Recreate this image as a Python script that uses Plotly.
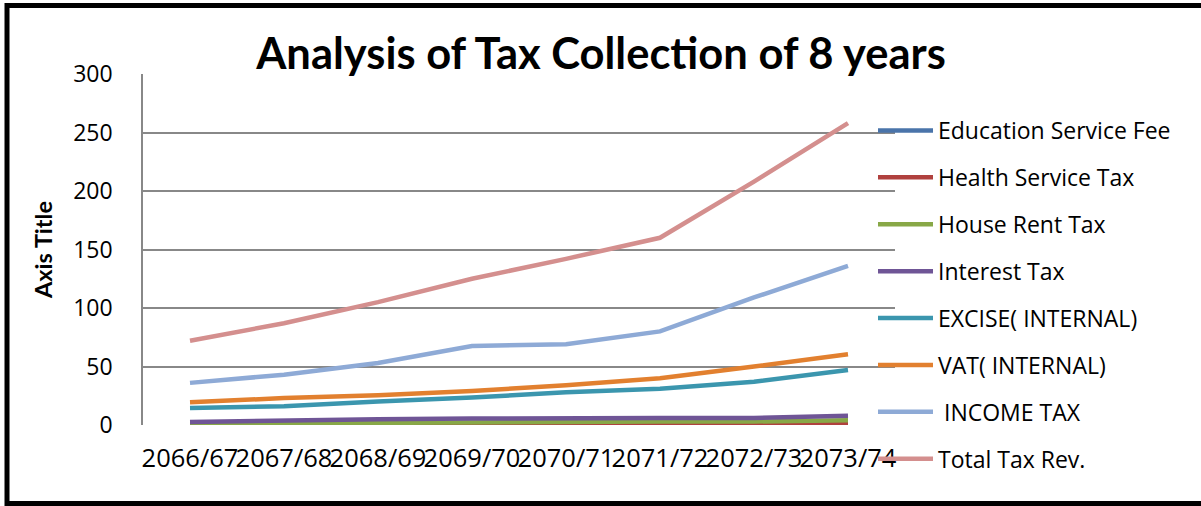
import plotly.graph_objects as go

years = ["2066/67", "2067/68", "2068/69", "2069/70", "2070/71", "2071/72", "2072/73", "2073/74"]

education_service_fee = [0.1, 0.1, 0.1, 0.1, 0.1, 0.1, 0.1, 0.1]
health_service_tax = [0.3, 0.4, 0.5, 0.6, 0.7, 0.8, 0.9, 1.0]
house_rent_tax = [1.0, 1.5, 2.0, 2.0, 2.5, 3.0, 3.0, 4.0]
interest_tax = [2.5, 4.0, 5.0, 5.5, 6.0, 6.0, 6.0, 8.0]
excise_internal = [14.5, 16.0, 20.0, 23.5, 28.0, 31.0, 37.0, 47.0]
vat_internal = [19.5, 23.0, 25.5, 29.0, 34.0, 40.0, 50.0, 60.5]
income_tax = [36.0, 43.0, 53.0, 67.5, 69.0, 80.0, 109.0, 136.0]
total_tax_rev = [72.0, 87.0, 105.0, 125.0, 142.0, 160.0, 208.0, 258.0]

series_names = ["Education Service Fee", "Health Service Tax", "House Rent Tax", "Interest Tax",
                "EXCISE( INTERNAL)", "VAT( INTERNAL)", " INCOME TAX", "Total Tax Rev."]
series_values = [education_service_fee, health_service_tax, house_rent_tax, interest_tax,
                 excise_internal, vat_internal, income_tax, total_tax_rev]
series_colors = ["#4a74aa", "#b0413e", "#88a847", "#6f5596", "#3b96ae", "#e2802f", "#8eaad6", "#d48f8e"]

W, H = 1201, 506
L, R, T, B = 143, 306, 74, 81
pw, ph = W - L - R, H - T - B

fig = go.Figure()
for i, (name, vals, col) in enumerate(zip(series_names, series_values, series_colors)):
    fig.add_trace(go.Scatter(x=years, y=vals, name=name, mode="lines",
                             line=dict(color=col, width=4.5), legendgroup=f"g{i}"))

def px_x(x):
    return (x - L) / pw

def px_y(y):
    return (H - B - y) / ph

fig.update_layout(
    width=W, height=H,
    margin=dict(l=L, r=R, t=T, b=B, autoexpand=False),
    paper_bgcolor="white", plot_bgcolor="white",
    title=dict(text="<b>Analysis of Tax Collection of 8 years</b>", x=601 / W, xanchor="center",
               y=1 - 54 / H, yanchor="middle", yref="container",
               font=dict(family="Lato", size=43.5, color="black")),
    font=dict(family="Open Sans", color="black"),
    showlegend=True,
    legend=dict(x=px_x(873), xanchor="left", y=px_y(109), yanchor="top",
                font=dict(family="Open Sans", size=23, color="black"),
                tracegroupgap=14, itemwidth=55, bgcolor="rgba(0,0,0,0)", maxheight=480),
    xaxis=dict(type="category", range=[-0.5, 7.5], showgrid=False, showline=False, ticks="",
               zeroline=False, automargin=False,
               tickangle=0, tickfont=dict(family="Open Sans", size=25.5, color="black"),
               ticklabelstandoff=15, fixedrange=True),
    yaxis=dict(range=[0, 300], tickvals=[0, 50, 100, 150, 200, 250, 300], showgrid=True,
               gridcolor="#888888", gridwidth=1.5, showline=True, linecolor="#888888", linewidth=1.5,
               ticks="", zeroline=False, automargin=False,
               tickfont=dict(family="Open Sans", size=23, color="black"),
               ticklabelstandoff=24,
               title=dict(text="<b>Axis Title</b>", font=dict(family="Lato", size=23.5, color="black"),
                          standoff=14)),
    shapes=[dict(type="rect", xref="paper", yref="paper",
                 x0=px_x(7), x1=px_x(1215), y0=px_y(503.5), y1=px_y(5.5),
                 line=dict(color="black", width=5), fillcolor="rgba(0,0,0,0)", layer="above")],
)

fig.write_html("out.html", config={"displayModeBar": False},
               post_script="document.body.style.margin='0';")
